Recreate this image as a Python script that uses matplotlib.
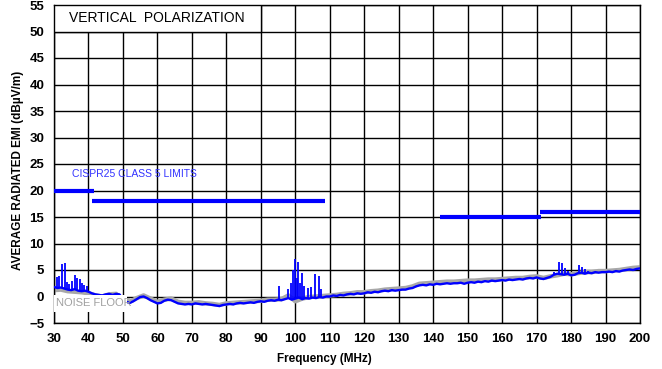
import numpy as np
import matplotlib
matplotlib.use("Agg")
import matplotlib.pyplot as plt
from matplotlib.patches import Rectangle

# measured trace (blue), 1 MHz steps 30..200
freq = np.arange(30, 201)
emi = [
    1.8, 1.6, 1.7, 1.5, 1.3, 1.2, 1.4, 1.1, 1.0, 1.1,   # 30-39
    0.9, 0.6, 0.4, 0.3, 0.2, 0.4, 0.5, 0.3, 0.5, 0.4,   # 40-49
    -0.5, -1.0, -1.2, -0.9, -0.5, -0.1, 0.0, -0.3, -0.7, -1.0,  # 50-59
    -1.3, -1.2, -0.8, -0.6, -0.7, -1.0, -1.3, -1.4, -1.5, -1.4,  # 60-69
    -1.5, -1.3, -1.4, -1.5, -1.4, -1.5, -1.6, -1.7, -1.8, -1.6,  # 70-79
    -1.5, -1.4, -1.5, -1.3, -1.2, -1.3, -1.2, -1.1, -1.2, -1.0,  # 80-89
    -0.9, -1.0, -0.8, -0.7, -0.8, -0.6, -0.7, -0.5, -0.3, -0.6,  # 90-99
    -0.4, -0.2, -0.5, -0.3, -0.4, -0.2, -0.3, -0.1, -0.2, 0.0,   # 100-109
    0.0, 0.2, 0.1, 0.3, 0.2, 0.4, 0.5, 0.4, 0.6, 0.5,   # 110-119
    0.6, 0.8, 0.7, 0.9, 0.8, 1.0, 1.1, 1.0, 1.2, 1.1,   # 120-129
    1.2, 1.3, 1.3, 1.5, 1.6, 1.9, 2.1, 2.2, 2.1, 2.3,   # 130-139
    2.2, 2.4, 2.3, 2.4, 2.5, 2.4, 2.5, 2.5, 2.6, 2.4,   # 140-149
    2.6, 2.7, 2.6, 2.8, 2.7, 2.9, 2.8, 3.0, 2.9, 3.0,   # 150-159
    3.1, 3.0, 3.2, 3.1, 3.2, 3.3, 3.2, 3.4, 3.5, 3.4,   # 160-169
    3.6, 3.4, 3.3, 3.5, 3.7, 4.1, 4.3, 4.2, 4.1, 4.3,   # 170-179
    4.0, 4.1, 4.4, 4.5, 4.3, 4.5, 4.4, 4.6, 4.5, 4.6,   # 180-189
    4.6, 4.7, 4.6, 4.8, 4.7, 4.9, 5.0, 5.1, 5.0, 5.2,   # 190-199
    5.3,
]

# noise floor (gray), 2 MHz steps
floor_freq = np.arange(30, 201, 2)
floor = [
    1.2, 1.3, 1.0, 0.9, 0.8, 0.6, 0.2, 0.0, 0.4, 0.5,
    -0.6, -1.0, -0.3, 0.2, -0.4, -1.0, -0.6, -0.4, -1.0, -1.2,
    -1.2, -1.1, -1.3, -1.4, -1.6, -1.3, -1.2, -1.1, -1.0, -0.9,
    -0.8, -0.6, -0.6, -0.5, 0.2, -0.9, -0.4, -0.1, 0.0, 0.1,
    0.2, 0.3, 0.5, 0.6, 0.8, 0.8, 1.0, 1.1, 1.3, 1.4,
    1.5, 1.6, 1.9, 2.4, 2.5, 2.6, 2.7, 2.8, 2.8, 2.9,
    3.0, 3.0, 3.1, 3.2, 3.2, 3.3, 3.4, 3.5, 3.5, 3.7,
    3.8, 3.5, 3.8, 4.0, 4.3, 4.2, 4.4, 4.6, 4.6, 4.8,
    4.8, 4.9, 5.0, 5.2, 5.4, 5.5,
]

# narrow spikes on the measured trace (freq, peak)
spike_f = [30.8, 31.5, 32.2, 33.1, 33.7, 34.4, 35.3, 36.2, 36.7, 37.4, 38.0, 38.8, 39.6,
           95.2, 97.8, 98.7, 99.4, 99.9, 100.4, 100.9, 101.5, 101.9, 102.6, 103.6,
           104.6, 105.8, 106.8, 107.6,
           175.1, 176.5, 177.3, 178.2, 179.2, 182.2, 183.1, 184.0, 185.0]
spike_pk = [3.6, 3.8, 6.1, 6.3, 2.8, 2.4, 3.0, 4.0, 3.4, 3.3, 2.5, 2.2, 2.0,
            2.0, 1.5, 2.5, 5.0, 7.0, 3.5, 6.6, 2.6, 4.4, 1.9, 1.6,
            1.7, 4.2, 3.9, 1.5,
            4.6, 6.6, 6.3, 5.3, 4.9, 6.0, 5.6, 5.2, 4.9]

# CISPR25 class 5 limits: (start, stop, level)
limit_start = [30, 41, 142, 171]
limit_stop = [41.5, 108.5, 171.2, 200]
limit_level = [20, 18, 15, 16]

fig = plt.figure(figsize=(6.62, 3.69), dpi=100)
ax = fig.add_axes([54 / 662, 1 - 323 / 369, 586 / 662, 318 / 369])

ax.plot(floor_freq, floor, color="#a8a8a8", lw=3.2, zorder=2)
ax.plot(freq, emi, color="#0000ff", lw=1.7, zorder=3)
base = np.interp(spike_f, freq, emi)
ax.vlines(spike_f, base, spike_pk, color="#0000ff", lw=1.3, zorder=3)

for x0, x1, lvl in zip(limit_start, limit_stop, limit_level):
    ax.plot([x0, x1], [lvl, lvl], color="#0000ff", lw=3.0, solid_capstyle="butt", zorder=4)

ax.set_xlim(30, 200)
ax.set_ylim(-5, 55)
ax.set_xticks(range(30, 201, 10))
ax.set_yticks(range(-5, 56, 5))
ax.set_yticklabels([str(v).replace("-", "\u2212") for v in range(-5, 56, 5)])
ax.grid(True, color="black", lw=1.0, zorder=1)
ax.set_axisbelow(True)
ax.tick_params(length=0, pad=7)
for lbl in ax.get_xticklabels() + ax.get_yticklabels():
    lbl.set_fontfamily("Liberation Sans")
    lbl.set_fontweight("bold")
    lbl.set_fontsize(9.5)
for sp in ax.spines.values():
    sp.set_color("black")
    sp.set_linewidth(1.0)

# title box in upper left
ax.add_patch(Rectangle((30, 50), 60, 5, facecolor="white", edgecolor="black", lw=1.0, zorder=5))
ax.text(34.3, 52.6, "VERTICAL  POLARIZATION", fontsize=10, family="Liberation Sans",
        va="center", ha="left", zorder=6)

# noise floor label
ax.add_patch(Rectangle((30.1, -2.9), 21.1, 3.2, facecolor="white", edgecolor="none", zorder=5))
ax.text(30.6, -1.3, "NOISE FLOOR", fontsize=8, color="#a0a0a0", family="Liberation Sans",
        va="center", ha="left", zorder=6)

ax.text(35.3, 23.1, "CISPR25 CLASS 5 LIMITS", fontsize=7.5, color="#3333ff", family="Liberation Sans",
        va="center", ha="left", zorder=6)

ax.set_xlabel("Frequency (MHz)", fontsize=8.5, fontweight="bold", family="Liberation Sans")
ax.xaxis.set_label_coords((324 - 54) / 586, -0.095)
ax.set_ylabel("AVERAGE RADIATED EMI (dB\u00b5V/m)", fontsize=8.5, fontweight="bold",
              family="Liberation Sans")
ax.yaxis.set_label_coords(-0.052, (369 - 170 - 46) / 318)

fig.savefig("out.png", dpi=100)
